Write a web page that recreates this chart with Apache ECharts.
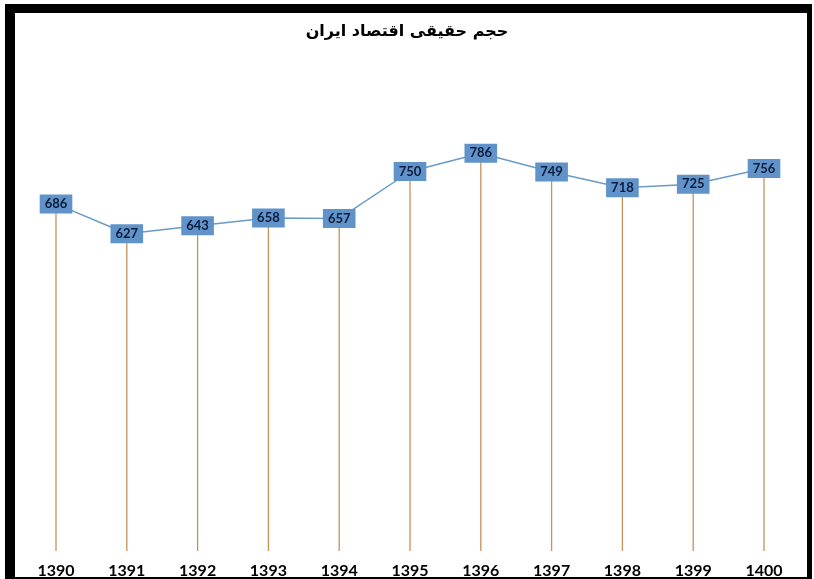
<!DOCTYPE html>
<html><head><meta charset="utf-8">
<script src="https://cdn.jsdelivr.net/npm/echarts@6/dist/echarts.min.js"></script>
<style>html,body{margin:0;padding:0;background:#fff}#c{width:814px;height:579px}</style>
</head><body><div id="c"></div>
<script>
const titleText = 'حجم حقیقی اقتصاد ایران';
const years = ['1390','1391','1392','1393','1394','1395','1396','1397','1398','1399','1400'];
const values = [686, 627, 643, 658, 657, 750, 786, 749, 718, 725, 756];

const chart = echarts.init(document.getElementById('c'), null, {renderer: 'canvas'});
chart.setOption({
  backgroundColor: '#ffffff',
  animation: false,
  title: {
    text: titleText, left: 'center', top: 19,
    textStyle: {fontFamily: 'DejaVu Sans', fontWeight: 'bold', fontSize: 16, color: '#000'}
  },
  graphic: [
    {type: 'rect', shape: {x: 5, y: 4, width: 804, height: 9}, style: {fill: '#000'}, z: 100},
    {type: 'rect', shape: {x: 5, y: 4, width: 10, height: 575}, style: {fill: '#000'}, z: 100},
    {type: 'rect', shape: {x: 807, y: 4, width: 5, height: 575}, style: {fill: '#000'}, z: 100},
    {type: 'rect', shape: {x: 5, y: 577, width: 807, height: 2}, style: {fill: '#000'}, z: 100}
  ],
  grid: {left: 20.6, right: 14.6, top: 45, bottom: 25, containLabel: false},
  xAxis: {
    type: 'category', data: years, boundaryGap: true,
    axisLine: {show: false}, axisTick: {show: false}, splitLine: {show: false},
    axisLabel: {margin: 12, fontFamily: 'Lato', fontWeight: 'bold', fontSize: 16, color: '#000'}
  },
  yAxis: {
    type: 'value', min: 0, max: 1000, show: false, splitLine: {show: false}
  },
  series: [
    {
      type: 'bar', data: values, barWidth: 1.3, barGap: '-100%',
      itemStyle: {color: '#C49358'}, silent: true, z: 1
    },
    {
      type: 'line', data: values, symbol: 'circle', symbolSize: 1, z: 5,
      lineStyle: {color: '#6A9AC8', width: 1.5},
      itemStyle: {color: '#6A9AC8'},
      label: {
        show: true, position: 'inside', fontFamily: 'Lato', fontWeight: 'bold', fontSize: 13,
        color: '#0D1B3A', backgroundColor: '#5F93C9', padding: [3, 5, 3, 5]
      }
    }
  ]
});
</script></body></html>
